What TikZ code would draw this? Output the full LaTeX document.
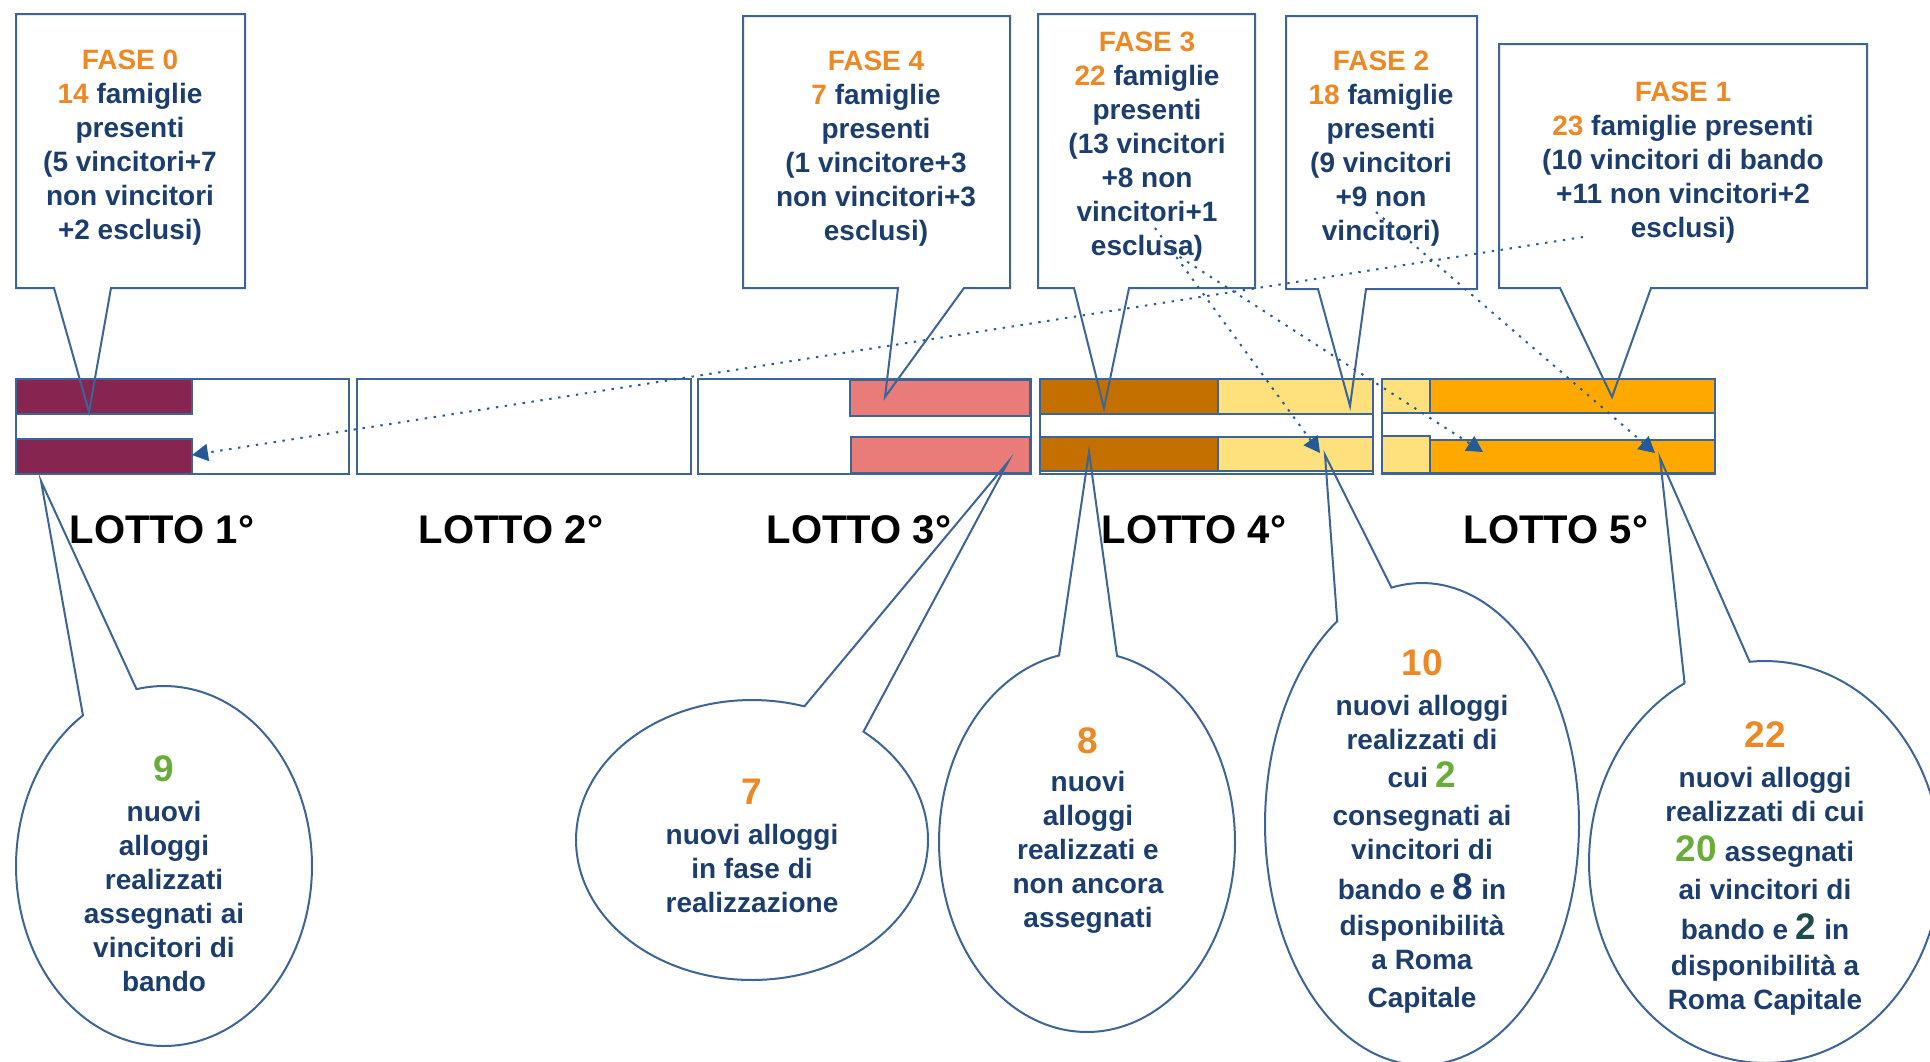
\documentclass[tikz,border=0pt]{standalone}
\usepackage{fontspec}
\setmainfont{Liberation Sans}
\usetikzlibrary{arrows.meta}
\definecolor{bordc}{RGB}{60,100,150}
\definecolor{navyc}{RGB}{28,62,110}
\definecolor{orangec}{RGB}{236,137,36}
\definecolor{greenc}{RGB}{106,172,58}
\definecolor{tealc}{RGB}{30,75,75}
\definecolor{maroonc}{RGB}{133,37,80}
\definecolor{pinkc}{RGB}{233,123,120}
\definecolor{brownc}{RGB}{196,112,0}
\definecolor{lyellowc}{RGB}{254,224,124}
\definecolor{orangebar}{RGB}{255,168,0}
\definecolor{arrowc}{RGB}{36,90,150}
\newcommand\ftxt{\fontsize{14}{17}\selectfont\bfseries}
\newcommand\og[1]{\textcolor{orangec}{#1}}
\newcommand\bnum[2]{{\fontsize{18.5}{20}\selectfont\textcolor{#1}{#2}}}
% rectangle callout: x1 y1 x2 y2 bx1 bx2 tipx tipy
\newcommand\rcall[8]{\draw[callout] (#1,#2) -- (#3,#2) -- (#3,#4) -- (#6,#4) -- (#7,#8) -- (#5,#4) -- (#1,#4) -- cycle;}
% ellipse callout: cx cy rx ry t1 t2 tipx tipy t1+360
\newcommand\ecall[9]{\draw[callout] ({#1+#3*cos(#5)},{#2+#4*sin(#5)}) -- (#7,#8) -- ({#1+#3*cos(#6)},{#2+#4*sin(#6)}) -- plot[domain=#6:#9, samples=160] ({#1+#3*cos(\x)},{#2+#4*sin(\x)}) -- cycle;}
\begin{document}
\begin{tikzpicture}[x=0.5pt,y=-0.5pt,
 bord/.style={draw=bordc, line width=1.1pt},
 callout/.style={draw=bordc, line width=1pt, line join=miter},
 ctext/.style={align=center, text=navyc, font=\ftxt, inner sep=0pt},
 lottolbl/.style={font=\fontsize{20}{24}\selectfont\bfseries, text=black, inner sep=0pt},
 dotarrow/.style={draw=arrowc, line width=1pt, dash pattern=on 1.2pt off 3.3pt, -{Triangle[length=8pt,width=8.5pt]}}]
\useasboundingbox (0,0) rectangle (1930,1061);
\clip (0,0) rectangle (1930,1061);
% lotto boxes
\draw[bord, fill=white] (16,379) rectangle (349,474);
\draw[bord, fill=white] (357,379) rectangle (691,474);
\draw[bord, fill=white] (698,379) rectangle (1031,474);
\draw[bord, fill=white] (1040,379) rectangle (1373,474);
\draw[bord, fill=white] (1382,379) rectangle (1715,474);
% bars
\filldraw[bord, fill=maroonc] (16,379) rectangle (192,414) (16,439) rectangle (192,474);
\filldraw[bord, fill=pinkc] (850,380) rectangle (1030,416) (851,437) rectangle (1030,473);
\filldraw[bord, fill=brownc] (1040,379) rectangle (1218,414) (1040,437) rectangle (1218,471);
\filldraw[bord, fill=lyellowc] (1218,379) rectangle (1373,414) (1218,437) rectangle (1373,471);
\filldraw[bord, fill=lyellowc] (1382,379) rectangle (1430,413) (1382,436) rectangle (1430,473);
\filldraw[bord, fill=orangebar] (1430,379) rectangle (1715,413) (1430,440) rectangle (1715,473);
% lotto labels
\node[lottolbl] (l1) at (162,530) {LOTTO 1°};
\node[lottolbl] (l2) at (511,530) {LOTTO 2°};
\node[lottolbl] (l3) at (859,530) {LOTTO 3°};
\node[lottolbl] (l4) at (1194,530) {LOTTO 4°};
\node[lottolbl] (l5) at (1556,530) {LOTTO 5°};
% top callouts
\rcall{16}{14}{245}{288}{54}{111}{89}{412}
\rcall{743}{16}{1010}{288}{898}{964}{885}{397}
\rcall{1038}{14}{1255}{288}{1074}{1129}{1104}{408}
\rcall{1286}{16}{1477}{289}{1318}{1366}{1350}{406}
\rcall{1499}{44}{1867}{288}{1560}{1651}{1612}{397}
\node[ctext] (f0) at (130,148) {\og{FASE 0}\\\og{14} famiglie\\presenti\\(5 vincitori+7\\non vincitori\\+2 esclusi)};
\node[ctext] (f4) at (876,149) {\og{FASE 4}\\\og{7} famiglie\\presenti\\(1 vincitore+3\\non vincitori+3\\esclusi)};
\node[ctext] (f3) at (1147,147) {\og{FASE 3}\\\og{22} famiglie\\presenti\\(13 vincitori\\+8 non\\vincitori+1\\esclusa)};
\node[ctext] (f2) at (1381,149) {\og{FASE 2}\\\og{18} famiglie\\presenti\\(9 vincitori\\+9 non\\vincitori)};
\node[ctext] (f1) at (1683,163) {\og{FASE 1}\\\og{23} famiglie presenti\\(10 vincitori di bando\\+11 non vincitori+2\\esclusi)};
% bottom callouts
\ecall{164}{866}{148}{180}{236.8}{259.3}{41}{481}{596.8}
\ecall{752}{840}{176}{140}{287.3}{309.3}{1008}{462}{647.3}
\ecall{1087}{842}{148}{190}{259.1}{281.7}{1089}{452}{619.1}
\ecall{1422}{824}{157}{241}{237.3}{258.8}{1325}{455}{597.3}
\ecall{1765}{862}{176}{201}{242.8}{265}{1660}{458}{602.8}
\node[ctext] (e1) at (164,874) {\bnum{greenc}{9}\\[3pt]nuovi\\alloggi\\realizzati\\assegnati ai\\vincitori di\\bando};
\node[ctext] (e2) at (752,846) {\bnum{orangec}{7}\\[3pt]nuovi alloggi\\in fase di\\realizzazione};
\node[ctext] (e3) at (1088,831) {\bnum{orangec}{8}\\[2pt]nuovi\\alloggi\\realizzati e\\non ancora\\assegnati};
\node[ctext] (e4) at (1422,831) {\bnum{orangec}{10}\\[3pt]nuovi alloggi\\realizzati di\\[2pt]cui \bnum{greenc}{2}\\[2pt]consegnati ai\\vincitori di\\[3pt]bando e \bnum{navyc}{8} in\\[1pt]disponibilità\\a Roma\\[2pt]Capitale};
\node[ctext] (e5) at (1765,868) {\bnum{orangec}{22}\\[3pt]nuovi alloggi\\realizzati di cui\\[3pt]\bnum{greenc}{20} assegnati\\[2pt]ai vincitori di\\[3pt]bando e \bnum{tealc}{2} in\\[1pt]disponibilità a\\Roma Capitale};
% dotted arrows
\coordinate (s1) at (1583,237);
\coordinate (t1) at (192,455);
\coordinate (s2) at (1155,228);
\coordinate (t2) at (1320,453);
\coordinate (s3) at (1172,252);
\coordinate (t3) at (1483,452);
\coordinate (s4) at (1376,212);
\coordinate (t4) at (1655,453);
\draw[dotarrow] (s1) -- (t1);
\draw[dotarrow] (s2) -- (t2);
\draw[dotarrow] (s3) -- (t3);
\draw[dotarrow] (s4) -- (t4);
\end{tikzpicture}
\end{document}
